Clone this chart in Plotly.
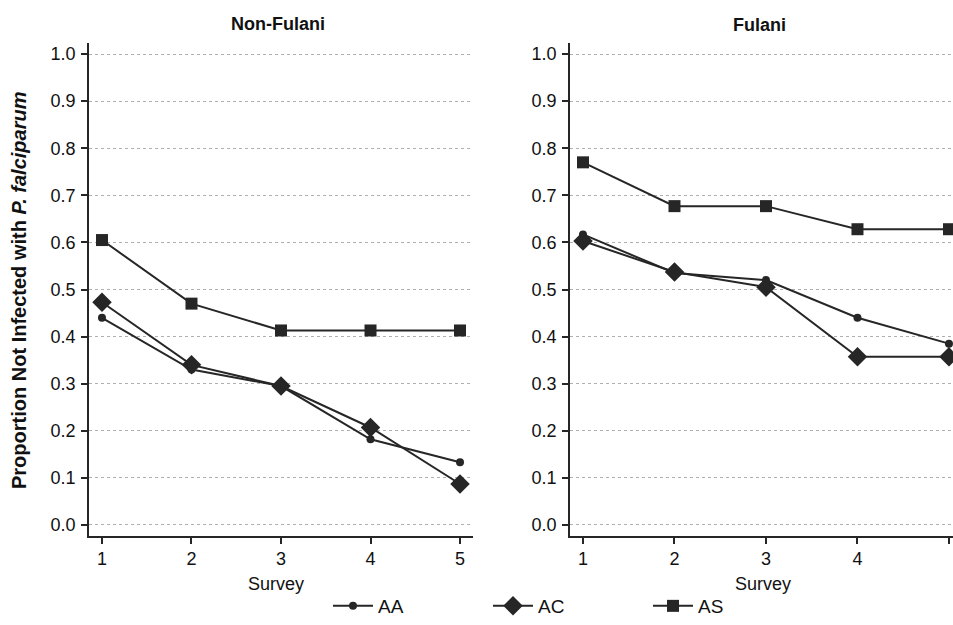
import plotly.graph_objects as go

surveys = [1, 2, 3, 4, 5]
groups = ["AA", "AC", "AS"]

nonfulani_AA = [0.44, 0.33, 0.295, 0.182, 0.133]
nonfulani_AC = [0.473, 0.34, 0.295, 0.207, 0.087]
nonfulani_AS = [0.605, 0.47, 0.413, 0.413, 0.413]

fulani_AA = [0.617, 0.535, 0.52, 0.44, 0.385]
fulani_AC = [0.603, 0.537, 0.505, 0.357, 0.357]
fulani_AS = [0.77, 0.677, 0.677, 0.628, 0.628]

panel_titles = ["Non-Fulani", "Fulani"]
y_ticks = [0.0, 0.1, 0.2, 0.3, 0.4, 0.5, 0.6, 0.7, 0.8, 0.9, 1.0]

W, H = 953, 625
COL = "#262626"
FONT = "Liberation Sans, Arial, sans-serif"

symbols = {"AA": ("circle", 8), "AC": ("diamond", 15), "AS": ("square", 12)}

fig = go.Figure()
data = [
    {"AA": nonfulani_AA, "AC": nonfulani_AC, "AS": nonfulani_AS},
    {"AA": fulani_AA, "AC": fulani_AC, "AS": fulani_AS},
]
for i, d in enumerate(data):
    xa = "x" if i == 0 else "x2"
    ya = "y" if i == 0 else "y2"
    for g in groups:
        sym, sz = symbols[g]
        fig.add_trace(go.Scatter(
            x=surveys, y=d[g], mode="lines+markers", name=g,
            xaxis=xa, yaxis=ya, showlegend=(i == 0),
            line=dict(color=COL, width=2),
            marker=dict(symbol=sym, size=sz, color=COL),
        ))

def px_x(p):
    return p / W

def px_y(p):
    return 1 - p / H

ydom = [px_y(536), px_y(43)]
axis_common = dict(
    showline=True, linecolor=COL, linewidth=1.5,
    ticks="outside", ticklen=6, tickcolor=COL, tickwidth=1.5,
    tickfont=dict(family=FONT, size=18, color="#111"),
    zeroline=False,
)
yaxis_common = dict(
    axis_common, range=[-0.0234, 1.0234], tickvals=y_ticks,
    tickformat=".1f", showgrid=True, gridcolor="#b0b0b0",
    griddash="dot", gridwidth=1, ticklabelstandoff=2,
)
xaxis_common = dict(axis_common, tickvals=surveys, showgrid=False)

fig.update_layout(
    width=W, height=H,
    paper_bgcolor="white", plot_bgcolor="white",
    margin=dict(l=0, r=0, t=0, b=0),
    font=dict(family=FONT, color="#111"),
    xaxis=dict(xaxis_common, domain=[px_x(89), px_x(473)], range=[0.855, 5.145], anchor="y"),
    yaxis=dict(yaxis_common, domain=ydom, anchor="x"),
    xaxis2=dict(xaxis_common, domain=[px_x(570), 1.0], range=[0.858, 5.044], anchor="y2"),
    yaxis2=dict(yaxis_common, domain=ydom, anchor="x2"),
    legend=dict(orientation="h", x=px_x(568), xanchor="center", y=px_y(606), yanchor="middle",
                font=dict(family=FONT, size=19, color="#111"), itemwidth=40,
                entrywidth=105, bgcolor="rgba(0,0,0,0)"),
    showlegend=True,
)

annots = [
    dict(text="<b>" + panel_titles[0] + "</b>", x=px_x(278), y=px_y(24), size=18),
    dict(text="<b>" + panel_titles[1] + "</b>", x=px_x(759), y=px_y(25), size=18),
    dict(text="Survey", x=px_x(276), y=px_y(584), size=18),
    dict(text="Survey", x=px_x(763), y=px_y(584), size=18),
]
for a in annots:
    sz = a.pop("size")
    fig.add_annotation(xref="paper", yref="paper", showarrow=False,
                       xanchor="center", yanchor="middle",
                       font=dict(family=FONT, size=sz, color="#111"),
                       **a)
fig.add_annotation(
    xref="paper", yref="paper", showarrow=False, textangle=-90,
    x=px_x(19), y=px_y(291), xanchor="center", yanchor="middle",
    text="<b>Proportion Not Infected with <i>P. falciparum</i></b>",
    font=dict(family=FONT, size=20, color="#111"),
)

fig.write_html(
    "out.html",
    config={"displayModeBar": False},
    post_script="document.body.style.margin='0';document.body.style.overflow='hidden';",
)
